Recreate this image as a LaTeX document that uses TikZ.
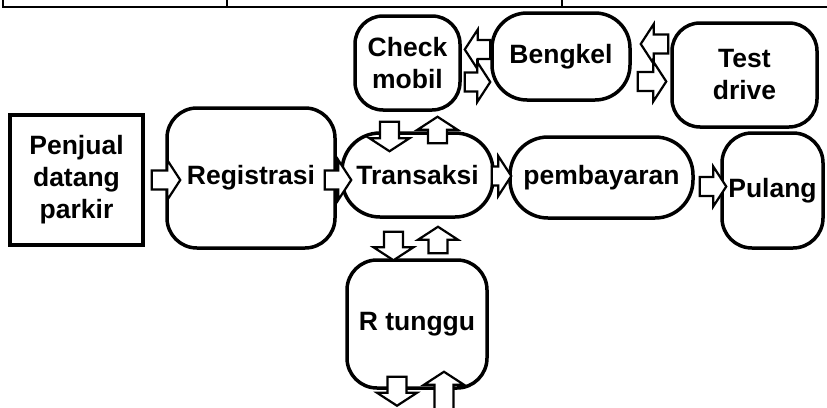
\documentclass[tikz,border=0pt]{standalone}
\usepackage{fontspec}
\setmainfont{Liberation Sans}
\usetikzlibrary{calc}
\tikzset{
  stage/.style={draw,line width=3.5pt,rounded corners=30pt,align=center,inner sep=0pt,
    font=\bfseries\fontsize{26.5}{32}\selectfont},
  blk/.style={draw,fill=white,line width=2.2pt,line join=miter,
    to path={($(\tikztostart)!\sw pt!90:(\tikztotarget)$)
      --($(\tikztotarget)!\hl pt!(\tikztostart)!\sw pt!-90:(\tikztostart)$)
      --($(\tikztotarget)!\hl pt!(\tikztostart)!\hw pt!-90:(\tikztostart)$)
      --(\tikztotarget)
      --($(\tikztotarget)!\hl pt!(\tikztostart)!\hw pt!90:(\tikztostart)$)
      --($(\tikztotarget)!\hl pt!(\tikztostart)!\sw pt!90:(\tikztostart)$)
      --($(\tikztostart)!\sw pt!-90:(\tikztotarget)$)--cycle}}
}
\begin{document}
\begin{tikzpicture}[x=1pt,y=-1pt]
\pgfmathsetmacro{\sw}{9.5}   %shaft half width
\pgfmathsetmacro{\hw}{20}    %head half width
\pgfmathsetmacro{\hl}{13}    %head length
\useasboundingbox (0,0) rectangle (827,407);
\clip (0,0) rectangle (827,407);
%table edge
\draw[line width=1.2pt] (3,0)--(3,7)--(827,7) (227,0)--(227,7) (562,0)--(562,7);
%main row
\node[stage,rounded corners=0pt,minimum width=133pt,minimum height=130pt] (penjual) at (76.5,180) {Penjual\\datang\\parkir};
\node[stage,minimum width=168pt,minimum height=140pt] (registrasi) at (251,178) {Registrasi};
\node[stage,rounded corners=38pt,minimum width=151pt,minimum height=84pt] (transaksi) at (417.5,175) {Transaksi};
\node[stage,rounded corners=38pt,minimum width=183pt,minimum height=81pt] (pembayaran) at (601.5,177.5) {pembayaran};
\node[stage,minimum width=101pt,minimum height=115pt] (pulang) at (772.5,190.5) {Pulang};
%top row
\node[stage,rounded corners=28pt,minimum width=105pt,minimum height=94pt] (checkmobil) at (407.5,63) {Check\\mobil};
\node[stage,rounded corners=35pt,minimum width=138pt,minimum height=87pt] (bengkel) at (561,56.5) {Bengkel};
\node[stage,rounded corners=28pt,minimum width=145pt,minimum height=104pt] (testdrive) at (744.5,75) {Test\\drive};
%bottom
\node[stage,minimum width=140pt,minimum height=128pt] (rtunggu) at (417,324) {R tunggu};
\coordinate (keluar) at ($(rtunggu.south)+(-20,16)$);
\coordinate (masuk) at ($(rtunggu.south)+(27,22)$);
%arrows
\draw[blk] ($(penjual.east)+(7,0)$) to ($(registrasi.west |- penjual.east)+(15,0)$);
\draw[blk] ($(registrasi.east)+(-12,2)$) to ($(transaksi.west |- registrasi.east)+(11,2)$);
\draw[blk] ($(transaksi.east)+(-3,1)$) to ($(pembayaran.west |- transaksi.east)+(3,1)$);
\draw[blk] ($(pembayaran.east |- pulang.west)+(5,-4)$) to ($(pulang.west)+(6,-4)$);
\draw[blk] ($(bengkel.west)+(0,-7)$) to ($(checkmobil.east |- bengkel.west)+(3,-7)$);
\draw[blk] ($(checkmobil.east)+(3,19)$) to ($(bengkel.west |- checkmobil.east)+(0,19)$);
\draw[blk] ($(testdrive.west)+(-2,-31)$) to ($(bengkel.east |- testdrive.west)+(9,-31)$);
\draw[blk] ($(bengkel.east)+(6,25)$) to ($(testdrive.west |- bengkel.east)+(-4,25)$);
\draw[blk] ($(checkmobil.south)+(-18,10)$) to ($(transaksi.north -| checkmobil.south)+(-18,20)$);
\draw[blk] ($(transaksi.north)+(20,12)$) to ($(checkmobil.south -| transaksi.north)+(20,5)$);
\draw[blk] ($(transaksi.south)+(-24,13)$) to ($(rtunggu.north -| transaksi.south)+(-24,2)$);
\draw[blk] ($(rtunggu.north)+(21,-5)$) to ($(transaksi.south -| rtunggu.north)+(21,8)$);
\draw[blk] ($(rtunggu.south)+(-20,-13)$) to (keluar);
\draw[blk] (masuk) to ($(rtunggu.south)+(27,-18)$);
\end{tikzpicture}
\end{document}
